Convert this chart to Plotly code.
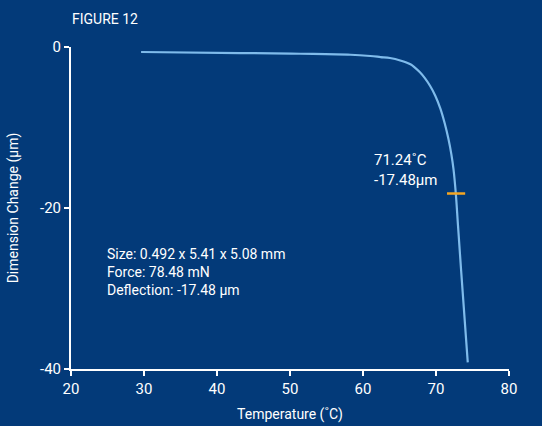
import plotly.graph_objects as go

temperature = [29.6, 43.2, 51.4, 58.3, 61.0, 62.4, 63.7, 65.1, 66.5, 67.15, 67.8, 68.5, 69.2, 69.9, 70.6, 71.2, 71.7, 72.1, 72.4, 72.71, 73.0, 73.44, 74.35]
dimension = [-0.62, -0.75, -0.84, -0.96, -1.12, -1.25, -1.37, -1.67, -2.15, -2.6, -3.15, -3.9, -4.85, -6.05, -7.65, -9.5, -11.4, -13.3, -15.2, -18.16, -22.0, -27.75, -39.18]
marker_t = [72.75]
marker_d = [-18.2]
x_ticks = [20, 30, 40, 50, 60, 70, 80]
y_ticks = [0, -20, -40]
y_tick_labels = ["0", "-20", "-40"]

BG = "#033a79"
FONT = "Roboto"

fig = go.Figure()
fig.add_trace(go.Scatter(x=temperature, y=dimension, mode="lines",
                         line=dict(color="#7fbbeb", width=2.2, shape="spline", smoothing=1.0),
                         showlegend=False, hoverinfo="skip"))
fig.add_trace(go.Scatter(x=marker_t, y=marker_d, mode="markers",
                         marker=dict(symbol="line-ew", size=13, line=dict(color="#f5a623", width=2.5)),
                         showlegend=False, hoverinfo="skip"))

fig.update_layout(
    width=542, height=426,
    paper_bgcolor=BG, plot_bgcolor=BG,
    margin=dict(l=71, r=33, t=47, b=57, autoexpand=False),
    font=dict(family=FONT, color="white", size=14),
    xaxis=dict(range=[20, 80], tickvals=x_ticks, showgrid=False, zeroline=False,
               showline=True, linecolor="white", linewidth=2, automargin=False,
               ticks="outside", ticklen=5, tickwidth=2, tickcolor="white",
               tickfont=dict(size=15),
               title=dict(text="Temperature (˚C)", font=dict(size=14), standoff=12)),
    yaxis=dict(range=[-40, 0], tickvals=y_ticks, ticktext=y_tick_labels, showgrid=False, zeroline=False,
               showline=True, linecolor="white", linewidth=2, automargin=False,
               ticks="outside", ticklen=5, tickwidth=2, tickcolor="white",
               tickfont=dict(size=15),
               title=dict(text="Dimension Change (µm)", font=dict(size=14), standoff=18)),
    annotations=[
        dict(text="FIGURE 12", xref="paper", yref="paper", x=-0.002, y=1.0, yshift=28,
             xanchor="left", yanchor="middle", showarrow=False, font=dict(size=14)),
        dict(text="71.24˚C<br>-17.48µm", xref="x", yref="y", x=61.2, y=-15.3,
             xanchor="left", yanchor="middle", align="left", showarrow=False, font=dict(size=15)),
        dict(text="Size: 0.492 x 5.41 x 5.08 mm<br>Force: 78.48 mN<br>Deflection: -17.48 µm",
             xref="x", yref="y", x=24.6, y=-28.0, xanchor="left", yanchor="middle",
             align="left", showarrow=False, font=dict(size=14)),
    ],
)

fig.write_html("out.html")
